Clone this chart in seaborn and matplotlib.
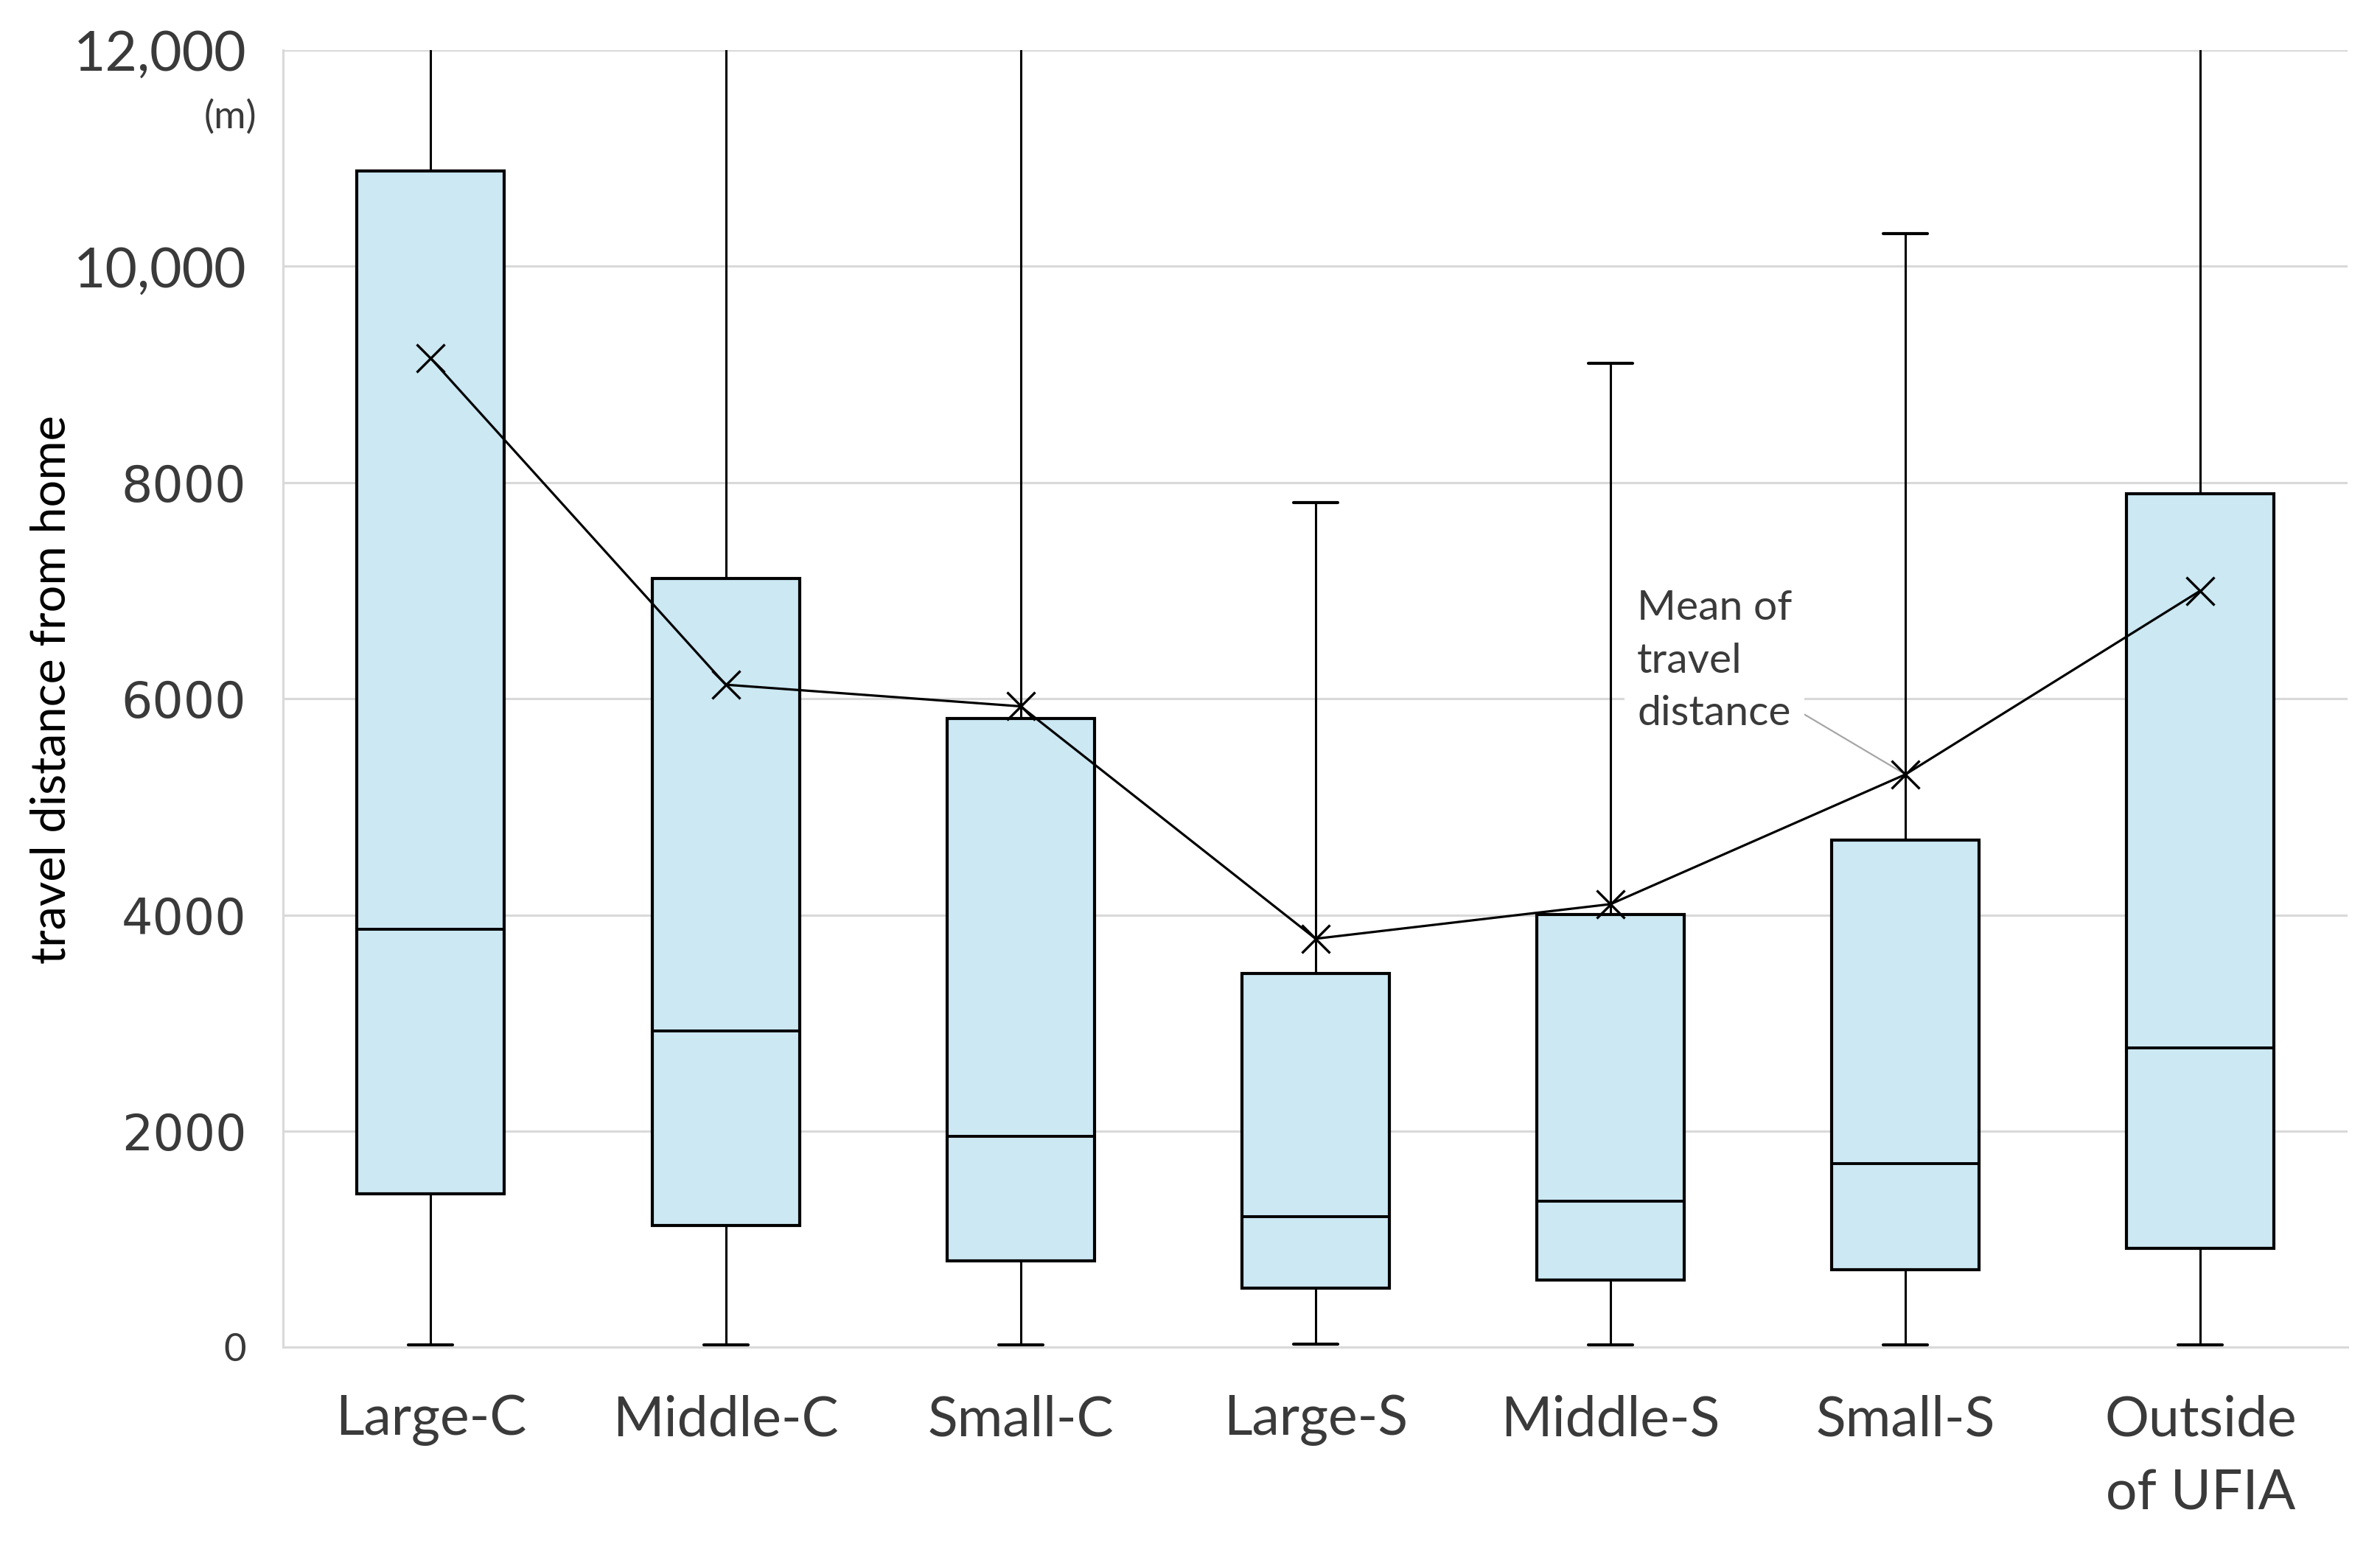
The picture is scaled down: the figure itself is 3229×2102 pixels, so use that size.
import matplotlib
matplotlib.use('Agg')
import matplotlib.pyplot as plt
import seaborn as sns
import numpy as np
import pandas as pd

# five-number summaries (m)
areas = ['Large-C', 'Middle-C', 'Small-C', 'Large-S', 'Middle-S', 'Small-S', 'Outside\nof UFIA']
whisker_low = [25, 25, 25, 30, 25, 25, 25]
q1 = [1420, 1125, 800, 550, 620, 720, 915]
median = [3865, 2925, 1950, 1210, 1350, 1700, 2770]
q3 = [10880, 7110, 5820, 3460, 4005, 4695, 7900]
whisker_high = [15000, 15000, 15000, 7815, 9105, 10300, 15000]  # first three and last run off the top
means = [9150, 6130, 5930, 3780, 4100, 5300, 7000]

ytick_vals = [0, 2000, 4000, 6000, 8000, 10000, 12000]
ytick_text = ['0', '2000', '4000', '6000', '8000', '10,000', '12,000']

rows = []
for i, a in enumerate(areas):
    for v in (whisker_low[i], q1[i], median[i], q3[i], whisker_high[i]):
        rows.append({'area': a, 'distance': v})
df = pd.DataFrame(rows)

sns.set_theme(style='white')
plt.rcParams['font.family'] = ['Lato', 'DejaVu Sans']
txt = '#3a3a3a'

fig = plt.figure(figsize=(16.15, 10.51), dpi=200)
ax = fig.add_axes([0.1190, 0.1302, 0.8672, 0.8374])
ax.set_axisbelow(True)
ax.yaxis.grid(True, color='#d9d9d9', linewidth=1.1)

sns.boxplot(data=df, x='area', y='distance', order=areas, ax=ax,
            whis=np.inf, width=0.5, color='#cbe8f3', saturation=1,
            linecolor='black', linewidth=1.5, capwidths=0.15,
            medianprops={'color': 'black', 'linewidth': 1.4},
            whiskerprops={'color': 'black', 'linewidth': 1.1},
            capprops={'color': 'black', 'linewidth': 1.5})

sns.lineplot(x=np.arange(len(areas)), y=means, ax=ax, color='black',
             linewidth=1.15, marker='x', markersize=14, markeredgewidth=1.2,
             markeredgecolor='black', zorder=5)

ax.annotate('Mean of\ntravel\ndistance', xy=(5, means[5]), xytext=(4.09, 7010),
            textcoords='data', ha='left', va='top', fontsize=20.5,
            linespacing=1.5, color=txt,
            bbox=dict(boxstyle='square,pad=0.3', fc='white', ec='none'),
            arrowprops=dict(arrowstyle='-', color='#a6a6a6', lw=0.8,
                            shrinkA=0, shrinkB=2))

ax.set_xlim(-0.5, len(areas) - 0.5)
ax.set_ylim(0, 12000)
ax.set_xlabel('')
ax.set_ylabel('')
ax.set_xticks(range(len(areas)))
ax.set_xticklabels(areas, fontsize=27, color=txt, linespacing=1.55)
ax.set_yticks(ytick_vals)
ax.set_yticklabels(ytick_text, color=txt)
ax.tick_params(axis='x', length=0, pad=23)
ax.tick_params(axis='y', length=0, pad=18)
for lab in ax.get_yticklabels():
    t = lab.get_text()
    if t == '0':
        lab.set_fontsize(19)
    elif ',' in t:
        lab.set_fontsize(27)
    else:
        lab.set_fontfamily('DejaVu Sans')
        lab.set_fontsize(24)

for s in ['top', 'right']:
    ax.spines[s].set_visible(False)
for s in ['left', 'bottom']:
    ax.spines[s].set_color('#d9d9d9')
    ax.spines[s].set_linewidth(1.1)

fig.text(0.0217, 0.555, 'travel distance from home', rotation=90,
         ha='center', va='center', fontsize=23.3, color='black')
fig.text(348 / 3230, 1 - 159 / 2102, '(m)', ha='right', va='center',
         fontsize=19, color=txt)

fig.savefig('out.png', dpi=200, facecolor='white')
